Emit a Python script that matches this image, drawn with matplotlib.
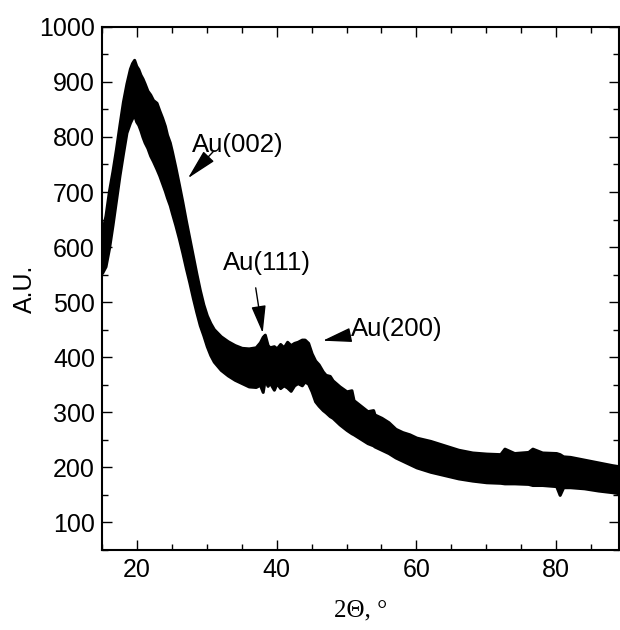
"""
XRD pattern of the Au-loaded carbon sample.

The noisy detector trace is drawn as a filled band between its lower and
upper envelope, read off the original figure (spikes included where visible).
"""

import matplotlib
matplotlib.use("Agg")
import matplotlib.pyplot as plt
from matplotlib.ticker import MultipleLocator

# ── Data ──────────────────────────────────────────────────────────────────────

two_theta = [
    15.0, 15.5, 16.0, 16.5, 17.0, 17.5, 18.0, 18.5, 19.0, 19.3,
    19.6, 19.9, 20.2, 20.5, 20.8, 21.1, 21.5, 21.9, 22.3, 22.8,
    23.2, 23.6, 24.0, 24.3, 24.7, 25.0, 25.5, 26.0, 26.5, 27.0,
    27.5, 28.0, 28.5, 29.0, 29.5, 30.0, 30.5, 31.0, 32.0, 33.0,
    34.0, 35.0, 36.0, 37.0, 37.6, 38.0, 38.3, 38.7, 39.0, 39.6,
    40.0, 40.5, 41.0, 41.5, 42.0, 42.5, 43.0, 43.6, 44.0, 44.5,
    45.0, 45.5, 46.0, 46.6, 47.0, 47.6, 48.0, 49.0, 50.0, 50.7,
    51.0, 52.0, 53.0, 53.8, 54.0, 55.0, 56.0, 57.0, 58.0, 59.0,
    60.0, 62.0, 64.0, 66.0, 68.0, 70.0, 72.0, 72.6, 74.0, 76.0,
    76.6, 78.0, 80.0, 80.5, 81.0, 82.0, 84.0, 86.0, 88.0, 89.0,
]

intensity_low = [
    553, 565, 598, 640, 685, 730, 770, 808, 826, 834,
    840, 828, 822, 812, 800, 790, 780, 766, 756, 742,
    730, 716, 702, 690, 676, 662, 640, 616, 590, 562,
    536, 508, 482, 458, 440, 420, 404, 392, 377, 367,
    359, 353, 347, 346, 350, 337, 360, 348, 354, 341,
    353, 344, 349, 345, 339, 349, 353, 349, 356, 352,
    338, 320, 312, 304, 300, 293, 290, 278, 268, 262,
    260, 252, 244, 240, 238, 232, 226, 218, 212, 206,
    200, 192, 186, 180, 176, 173, 172, 171, 171, 170,
    168, 168, 166, 150, 164, 164, 162, 158, 155, 153,
]

intensity_high = [
    627, 657, 702, 738, 778, 822, 864, 897, 924, 934,
    940, 929, 923, 913, 906, 897, 884, 877, 867, 862,
    848, 835, 820, 804, 790, 774, 745, 714, 682, 648,
    616, 584, 552, 522, 496, 476, 462, 451, 438, 429,
    422, 417, 416, 418, 427, 437, 441, 422, 418, 420,
    416, 424, 418, 428, 422, 426, 428, 432, 432, 426,
    407, 394, 387, 374, 368, 366, 358, 347, 338, 340,
    322, 312, 302, 304, 296, 290, 282, 270, 264, 260,
    254, 248, 240, 232, 227, 225, 224, 234, 226, 228,
    234, 227, 226, 224, 220, 219, 214, 209, 204, 202,
]

# Reflection labels: text anchor (left, centre), arrow tail and arrow tip
peak_labels = ["Au(002)", "Au(111)", "Au(200)"]
label_xy = [(27.9, 785), (32.3, 571), (50.7, 451)]
arrow_tail = [(30.9, 773), (37.0, 526), (50.45, 440)]
arrow_tip = [(27.3, 725), (38.0, 444), (46.6, 430)]
head_len = [1.9, 1.7, 1.8]

# ── Plot ──────────────────────────────────────────────────────────────────────

plt.rcParams["font.family"] = ["Liberation Sans", "DejaVu Sans"]

fig = plt.figure(figsize=(6.2, 6.3), dpi=100)
ax = fig.add_axes([0.1645, 0.127, 0.834, 0.8305])

# thick edge mimics the detector noise around the envelope
ax.fill_between(two_theta, intensity_low, intensity_high,
                color="black", lw=2.2, edgecolor="black")

for text, pos, tail, tip, hl in zip(peak_labels, label_xy, arrow_tail,
                                    arrow_tip, head_len):
    ax.annotate("", xy=tip, xytext=tail,
                arrowprops=dict(arrowstyle=f"-|>,head_length={hl},head_width=0.45",
                                color="black", lw=1.0, mutation_scale=10,
                                shrinkA=0, shrinkB=0))
    ax.text(pos[0], pos[1], text, ha="left", va="center", fontsize=18.5)

ax.set_xlim(15, 89)
ax.set_ylim(50, 1000)
ax.xaxis.set_major_locator(MultipleLocator(20))
ax.xaxis.set_minor_locator(MultipleLocator(5))
ax.yaxis.set_major_locator(MultipleLocator(100))
ax.yaxis.set_minor_locator(MultipleLocator(50))
ax.set_yticks(range(100, 1001, 100))

ax.tick_params(which="both", direction="in", top=True, right=True,
               width=1.0, labelsize=18)
ax.tick_params(which="major", length=7.5)
ax.tick_params(which="minor", length=4.3)
ax.tick_params(axis="x", pad=6)
ax.tick_params(axis="y", pad=5)

for spine in ax.spines.values():
    spine.set_linewidth(1.5)

ax.set_ylabel("A.U.", fontsize=18, labelpad=1.5)
ax.set_xlabel("2\u0398, \u00b0", fontsize=18, family="Liberation Serif",
              labelpad=12)

fig.savefig("out.png", dpi=100)
plt.close(fig)
